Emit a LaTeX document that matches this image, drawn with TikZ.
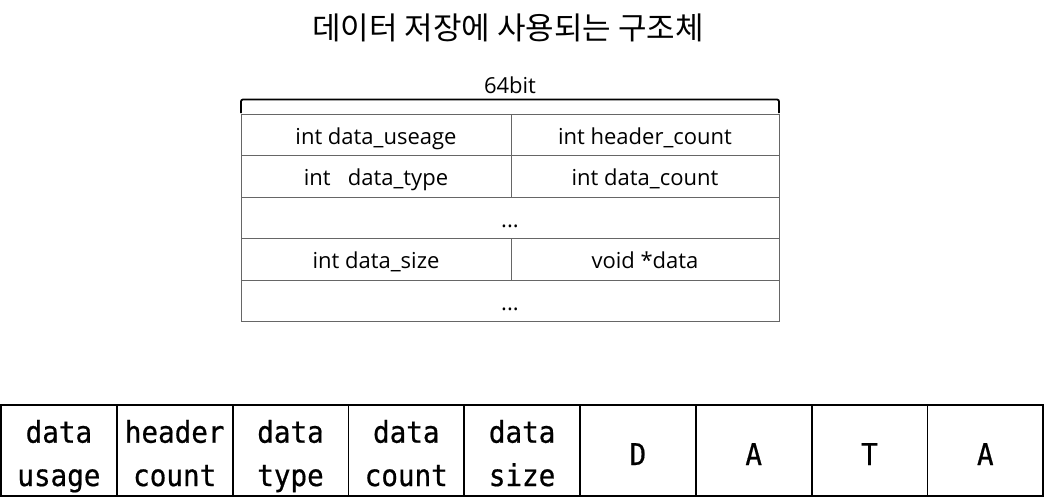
\documentclass[tikz,border=0pt]{standalone}
\usepackage{fontspec}
\setmainfont{Open Sans}
\newfontfamily\krfont{Noto Sans CJK KR}
\newfontfamily\cellmono[FakeStretch=0.92,FakeBold=0.6]{DejaVu Sans Mono}
\tikzset{
  topcell/.style={draw=black!60, line width=1pt, inner sep=0pt, outer sep=0pt,
    minimum height=41.5pt, text height=19pt, text depth=0pt,
    font=\fontsize{22}{26}\selectfont},
  botcell/.style={draw=black, line width=1.8pt, inner sep=0pt, outer sep=0pt,
    minimum width=115.8pt, minimum height=91pt},
  bottext/.style={anchor=base, inner sep=0pt, font=\cellmono\fontsize{30}{43}\selectfont},
  bracketline/.style={draw=black, line width=1.8pt, rounded corners=2pt}
}
\begin{document}
\begin{tikzpicture}[x=1pt,y=-1pt]
\useasboundingbox (0,0) rectangle (1044,499);
\node (title) at (508,28) {\krfont\fontsize{31}{36}\selectfont 데이터 저장에 사용되는 구조체};
\node (bits) at (510,85) {\fontsize{22}{26}\selectfont 64bit};
\coordinate (bl) at (241,113);
\coordinate (blt) at (241,99.5);
\coordinate (brt) at (779,99.5);
\coordinate (br) at (779,113);
\draw[bracketline] (bl) -- (blt) -- (brt) -- (br);
% top table
\node[topcell, minimum width=270pt] (a1) at (376,134.75) {int data\_useage};
\node[topcell, minimum width=268pt] (b1) at (645,134.75) {int header\_count};
\node[topcell, minimum width=270pt] (a2) at (376,176.25) {int\ \ \ data\_type};
\node[topcell, minimum width=268pt] (b2) at (645,176.25) {int data\_count};
\node[topcell, minimum width=538pt] (c3) at (510,217.75) {...};
\node[topcell, minimum width=270pt] (a4) at (376,259.25) {int data\_size};
\node[topcell, minimum width=268pt] (b4) at (645,259.25) {void *data};
\node[topcell, minimum width=538pt] (c5) at (510,300.75) {...};
% bottom row
\foreach \i in {0,...,8}{
  \node[botcell] (m\i) at ({1+115.8*(\i+0.5)},450.5) {};
}
\foreach \i/\u/\v in {0/data/usage,1/header/count,2/data/type,3/data/count,4/data/size}{
  \node[bottext] (u\i) at ([yshift=7.8pt]m\i.center) {\u};
  \node[bottext] (v\i) at ([yshift=-35.5pt]m\i.center) {\v};
}
\foreach \i/\t in {5/D,6/A,7/T,8/A}{
  \node[bottext] (w\i) at ([yshift=-14.5pt]m\i.center) {\t};
}
\end{tikzpicture}
\end{document}
